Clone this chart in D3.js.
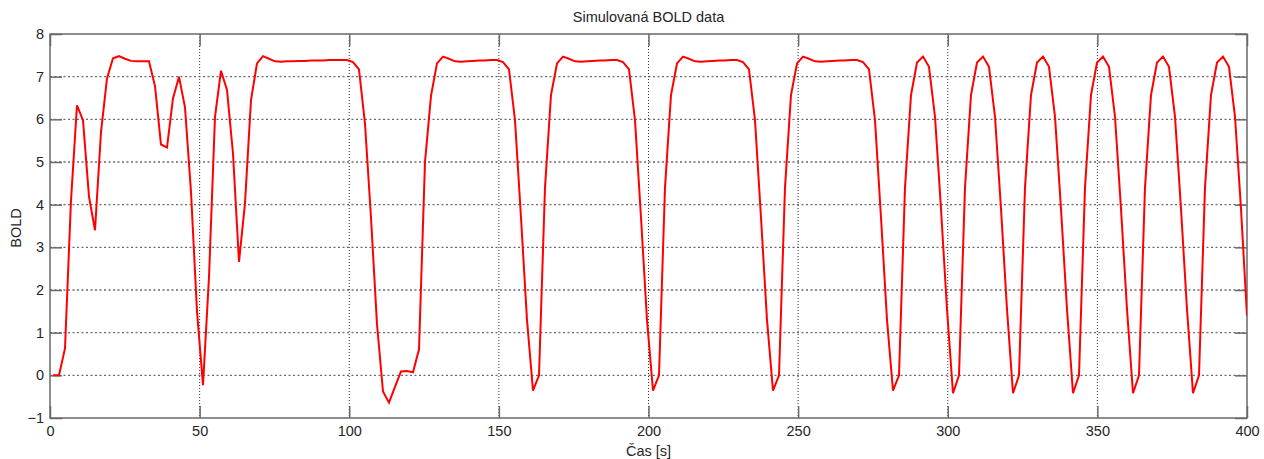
<!DOCTYPE html>
<html>
<head>
<meta charset="utf-8">
<script src="https://cdn.jsdelivr.net/npm/d3@7"></script>
<style>
  html, body { margin: 0; padding: 0; background: #fff; }
  svg { display: block; font-family: "Liberation Sans", Arial, sans-serif; }
</style>
</head>
<body>
<svg id="chart" width="1264" height="459"></svg>
<script>
// ---- data ----
const title = "Simulovaná BOLD data";
const xLabel = "Čas [s]";
const yLabel = "BOLD";
const xTicks = [0, 50, 100, 150, 200, 250, 300, 350, 400];
const yTicks = [-1, 0, 1, 2, 3, 4, 5, 6, 7, 8];
const xDomain = [0, 400];
const yDomain = [-1, 8];
// sampling grid: 200 samples from t = 1 s to t = 400 s
const sampleCount = 200, tFirst = 1, tLast = 400;
const times = d3.range(sampleCount).map(i => tFirst + i * (tLast - tFirst) / (sampleCount - 1));
// simulated BOLD signal, one value per sample
const bold = [
  0, 0, 0.63, 4.1, 6.33, 5.98, 4.19, 3.4, 5.7, 6.96,
  7.43, 7.48, 7.42, 7.37, 7.36, 7.36, 7.36, 6.78, 5.41, 5.34,
  6.49, 7.0, 6.28, 4.3, 1.5, -0.23, 2.3, 6.06, 7.14, 6.69,
  5.2, 2.66, 4.03, 6.45, 7.31, 7.48, 7.42, 7.36, 7.35, 7.36,
  7.36, 7.37, 7.37, 7.38, 7.38, 7.38, 7.39, 7.39, 7.39, 7.39,
  7.34, 7.17, 5.9, 3.7, 1.2, -0.38, -0.64, -0.27, 0.09, 0.10,
  0.07, 0.61, 5.0, 6.55, 7.31, 7.47, 7.42, 7.36, 7.35, 7.36,
  7.37, 7.38, 7.38, 7.39, 7.39, 7.34, 7.17, 5.98, 3.7, 1.3,
  -0.36, 0.0, 4.4, 6.57, 7.31, 7.47, 7.42, 7.36, 7.35, 7.36,
  7.37, 7.38, 7.38, 7.39, 7.39, 7.34, 7.17, 5.98, 3.7, 1.3,
  -0.36, 0.0, 4.4, 6.57, 7.31, 7.47, 7.42, 7.36, 7.35, 7.36,
  7.37, 7.38, 7.38, 7.39, 7.39, 7.34, 7.17, 5.98, 3.7, 1.3,
  -0.36, 0.0, 4.4, 6.57, 7.31, 7.47, 7.42, 7.36, 7.35, 7.36,
  7.37, 7.38, 7.38, 7.39, 7.39, 7.34, 7.17, 5.98, 3.7, 1.3,
  -0.36, 0.0, 4.4, 6.57, 7.33, 7.47, 7.23, 6.06, 3.9, 1.55,
  -0.42, 0.0, 4.4, 6.57, 7.33, 7.47, 7.23, 6.06, 3.9, 1.55,
  -0.42, 0.0, 4.4, 6.57, 7.33, 7.47, 7.23, 6.06, 3.9, 1.55,
  -0.42, 0.0, 4.4, 6.57, 7.33, 7.47, 7.23, 6.06, 3.9, 1.55,
  -0.42, 0.0, 4.4, 6.57, 7.33, 7.47, 7.23, 6.06, 3.9, 1.55,
  -0.42, 0.0, 4.4, 6.57, 7.33, 7.47, 7.23, 6.06, 3.9, 1.4
];

// ---- layout ----
const svg = d3.select("#chart");
const margin = { left: 50, top: 34, right: 17, bottom: 41 };
const W = 1264, H = 459;
const pw = W - margin.left - margin.right;
const ph = H - margin.top - margin.bottom;
const g = svg.append("g").attr("transform", `translate(${margin.left},${margin.top})`);

const x = d3.scaleLinear().domain(xDomain).range([0, pw]);
const y = d3.scaleLinear().domain(yDomain).range([ph, 0]);

const axisColor = "#6a6a6a";
const textColor = "#262626";
const tickLen = 12;

// grid lines
g.append("g").selectAll("line").data(yTicks.filter(v => v > yDomain[0] && v < yDomain[1])).join("line")
  .attr("x1", 0).attr("x2", pw).attr("y1", d => y(d)).attr("y2", d => y(d))
  .attr("stroke", "#6b6b6b").attr("stroke-width", 1.3).attr("stroke-dasharray", "2,2.5");
g.append("g").selectAll("line").data(xTicks.filter(v => v > xDomain[0] && v < xDomain[1])).join("line")
  .attr("y1", 0).attr("y2", ph).attr("x1", d => x(d)).attr("x2", d => x(d))
  .attr("stroke", "#333").attr("stroke-width", 1).attr("stroke-dasharray", "1,2");

// axes with inward ticks
function styleAxis(sel) {
  sel.select(".domain").remove();
  sel.selectAll(".tick line").attr("stroke", axisColor).attr("stroke-width", 1.5);
  sel.selectAll(".tick text").attr("fill", textColor).style("font-size", "14.5px")
    .style("font-family", '"Liberation Sans", Arial, sans-serif');
}
const axBottom = g.append("g").attr("transform", `translate(0,${ph})`)
  .call(d3.axisBottom(x).tickValues(xTicks).tickSize(-tickLen).tickPadding(8).tickFormat(d3.format("d")));
styleAxis(axBottom);
const axTop = g.append("g")
  .call(d3.axisTop(x).tickValues(xTicks).tickSize(-tickLen).tickFormat(""));
styleAxis(axTop);
const axLeft = g.append("g")
  .call(d3.axisLeft(y).tickValues(yTicks).tickSize(-tickLen).tickPadding(6).tickFormat(d3.format("d")));
styleAxis(axLeft);
const axRight = g.append("g").attr("transform", `translate(${pw},0)`)
  .call(d3.axisRight(y).tickValues(yTicks).tickSize(-tickLen).tickFormat(""));
styleAxis(axRight);

// box
g.append("rect").attr("x", 0).attr("y", 0).attr("width", pw).attr("height", ph)
  .attr("fill", "none").attr("stroke", axisColor).attr("stroke-width", 1.5);

// data line
svg.append("defs").append("clipPath").attr("id", "clip")
  .append("rect").attr("width", pw).attr("height", ph);
const series = times.map((t, i) => ({ t, v: bold[i] }));
g.append("path").datum(series)
  .attr("clip-path", "url(#clip)")
  .attr("fill", "none").attr("stroke", "#ff0000").attr("stroke-width", 2)
  .attr("stroke-linejoin", "miter")
  .attr("d", d3.line().x(d => x(d.t)).y(d => y(d.v)));

// texts
svg.append("text").attr("x", margin.left + pw / 2).attr("y", 22)
  .attr("text-anchor", "middle").attr("fill", textColor).style("font-size", "14.5px").text(title);
svg.append("text").attr("x", margin.left + pw / 2).attr("y", 456)
  .attr("text-anchor", "middle").attr("fill", textColor).style("font-size", "14.5px").text(xLabel);
svg.append("text").attr("transform", `translate(21,${margin.top + ph / 2 + 2}) rotate(-90)`)
  .attr("text-anchor", "middle").attr("fill", textColor).style("font-size", "14.5px").text(yLabel);
</script>
</body>
</html>
